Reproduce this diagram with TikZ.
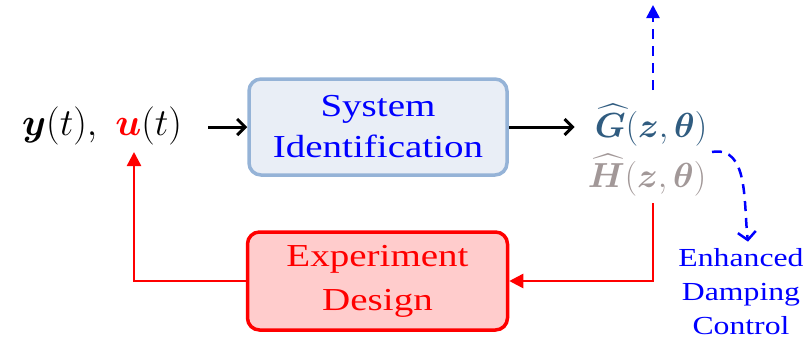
\RequirePackage{fix-cm}
\documentclass[tikz,border=0pt]{standalone}
\usepackage{fontspec}
\usepackage{amsmath,bm,graphicx}
\setmainfont{Liberation Serif}[FakeStretch=1.22]
\usetikzlibrary{arrows.meta}
\definecolor{sysborder}{RGB}{149,179,215}
\definecolor{sysfill}{RGB}{233,238,246}
\definecolor{expfill}{RGB}{255,204,204}
\definecolor{gcol}{RGB}{48,92,128}
\definecolor{hcol}{RGB}{162,152,152}
\tikzset{
  box/.style={rectangle, rounded corners=12pt, line width=3.5pt, align=center,
    font=\fontsize{32}{44}\selectfont, inner sep=0pt},
  sysbox/.style={box, draw=sysborder, fill=sysfill, text=blue,
    minimum width=258pt, minimum height=96pt},
  expbox/.style={box, draw=red, fill=expfill, text=red,
    minimum width=260pt, minimum height=98pt},
  mathlbl/.style={font=\fontsize{29}{36}\selectfont, inner sep=0pt},
  blk/.style={line width=3pt, -{Straight Barb[length=8pt,width=16pt,line width=3pt]}},
  redl/.style={red, line width=2.5pt, -{Triangle[length=14pt,width=14pt]}},
  bdash/.style={blue, line width=2.5pt, dash pattern=on 10pt off 7pt},
}
\begin{document}
\begin{tikzpicture}[x=1pt,y=-1pt]
\useasboundingbox (0,0) rectangle (807,341);
% measured signals
\node[mathlbl, anchor=west] (inp) at (22,126)
  {\scalebox{1.32}{$\bm{y}(t),\ {\color{red}\bm{u}}(t)$}};
% identification block
\node[sysbox] (sysid) at (378,127) {\raisebox{-3pt}{System}\\Identification};
% identified models
\node[mathlbl, text=gcol] (Ghat) at (651,125)
  {\scalebox{1.2}{$\widehat{\bm{G}}(\bm{z},\bm{\theta})$}};
\node[mathlbl, text=hcol] (Hhat) at (647,175)
  {\scalebox{1.2}{$\widehat{\bm{H}}(\bm{z},\bm{\theta})$}};
% experiment design block
\node[expbox] (expd) at (377.5,281) {Experiment\\Design};
% control label
\node[align=center, text=blue, font=\fontsize{26}{34}\selectfont, inner sep=0pt]
  (ctrl) at (741,292) {Enhanced\\Damping\\Control};
% auxiliary points
\coordinate (uin) at (134,152);
\coordinate (uptip) at (653,5);
\coordinate (gout) at (712,152);
\coordinate (hout) at (653,203);
% connectors
\draw[blk] ([xshift=26pt]inp.east |- sysid.west) -- (sysid.west);
\draw[blk] (sysid.east) -- ([xshift=-20pt]sysid.east -| Ghat.west);
\draw[redl] (hout) |- (expd.east);
\draw[redl] (expd.west) -| (uin);
\draw[bdash, -{Triangle[length=13pt,width=13pt]}] (653,90) -- (uptip);
\draw[bdash, -{Straight Barb[length=8pt,width=18pt,line width=2.5pt]}]
  (gout) to[out=10, in=97] ([xshift=7pt,yshift=7pt]ctrl.north);
\end{tikzpicture}
\end{document}
